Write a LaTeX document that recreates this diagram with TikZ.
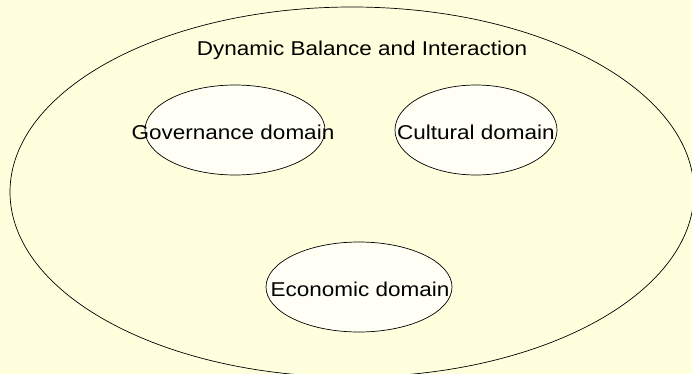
\documentclass[tikz,border=0pt]{standalone}
\usepackage{fontspec}
\setmainfont{Liberation Sans}
\usetikzlibrary{shapes.geometric}
\definecolor{bgyellow}{RGB}{255,255,221}
\definecolor{innerfill}{RGB}{255,255,246}
\tikzset{
  domainbox/.style={draw=black, line width=0.7pt, fill=innerfill, ellipse, inner sep=0pt},
  lbl/.style={font=\fontsize{20}{24}\selectfont, inner sep=0pt, xscale=1.125, transform shape},
}
\begin{document}
\begin{tikzpicture}[x=1pt,y=-1pt]
\fill[bgyellow] (0,0) rectangle (692,374);
\useasboundingbox (0,0) rectangle (692,374);
\draw[line width=0.7pt] (352,192) ellipse [x radius=342, y radius=185];
\node[lbl] (title) at (362,50) {Dynamic Balance and Interaction};
\node[domainbox, minimum width=180pt, minimum height=90pt] (gov) at (235,130) {};
\node[lbl] (govt) at (233,132) {Governance domain};
\node[domainbox, minimum width=162pt, minimum height=90pt] (cul) at (476,130) {};
\node[lbl] (cult) at (476,132) {Cultural domain};
\node[domainbox, minimum width=186pt, minimum height=90pt] (eco) at (359,287) {};
\node[lbl] (ecot) at (360,289) {Economic domain};
\end{tikzpicture}
\end{document}
